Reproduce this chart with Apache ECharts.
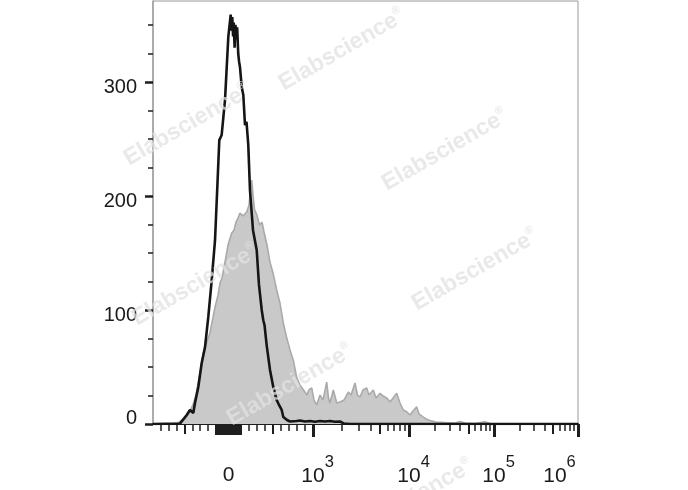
<!DOCTYPE html>
<html><head><meta charset="utf-8">
<script src="https://cdn.jsdelivr.net/npm/echarts@6/dist/echarts.min.js"></script>
<style>html,body{margin:0;padding:0;background:#fff}#c{width:688px;height:490px}</style>
</head><body><div id="c"></div>
<script>
// Histogram bins: display channel (0-1000 across the biexponential axis) and event counts
const grayChannel = [0,40,58.8,68.2,75.3,82.4,87,94,101,110.6,118.4,124.7,134,141,146,153,157.7,162.4,169.4,176.5,185.2,190.6,195.3,200,204.7,211.8,220.5,226,229.4,232.3,235.3,238.8,244.7,250.6,256.5,261.2,268.2,275.3,282.4,291,298.8,306.6,314.1,322.4,330.1,338,346,353.7,362.4,367,373.4,378.8,385.2,393,400,408.7,413,416.5,424.3,432.3,440,449.4,459.6,466,475.3,481.2,487,494,502.8,508.2,518.4,524.8,534.2,541.2,550,557.7,564.8,573.4,581.2,589,597.7,604.7,611.8,620.5,626,636,642.4,651.8,666,687,710.6,722.4,734,757.7,781,793,816.5,1000];
const grayCount = [0,0,0.9,3.5,4.4,8,9.6,16.7,25.4,44.7,62.3,69.3,80,93,102.6,113,123.7,128,142,157,167.5,170,177,180.7,185,182.5,186,192,205,214,201,188,183,174.6,177,168.4,157,142,132.5,117.5,106,88.6,76.3,65,56,41,34,30,25.4,30,31.6,21,16.7,25.4,21,36.8,22.8,18.4,29.8,18.4,19.3,21,28,25.4,36,25.4,23.7,29.8,31.6,25.4,29.8,22.8,27,24.6,22.8,19.3,22.8,27,18.4,12.3,10.5,7.9,11.4,15,8.8,6.1,4.4,3,1.8,1.3,0.9,2.2,0.9,0.4,2,0.4,0,0];
const blackChannel = [0,63.5,67.5,79.3,87,94.8,98.8,106.6,114.6,122.4,130.1,138.1,145.9,151,156,161.6,169.4,177.2,182.8,185,186.5,188.5,190,192,194,196,198,200.5,202.5,204.7,208.7,212.5,216.5,220,224.2,228.2,235.3,244,249.4,255.8,259.5,262.4,267.5,275.3,283,291,296.5,302.8,306.6,315.3,322.4,338,345.9,357.7,369.4,381,393,404.7,416.5,428.2,440,449.4,463.5,1000];
const blackCount = [0,0.3,0.9,7.9,12.3,9.6,18.4,32.5,53.5,67.5,93.9,126,161,205,249,253.5,284,339.5,359,345,357,340,352,330,350,338,348,325,318,313,295.6,288.6,262,265,244.7,205,170,152.6,122,100,91,86.8,69,47.4,32.5,21,16.7,12.3,6.1,3.5,2.2,2.6,3,2.2,2.6,2,2.6,2.2,2.6,2,2.2,0.4,0,0];

// Axis ticks and labels (data units)
const yLabelValues = [0,100,200,300];
const yMinorValues = [25,50,75,125,150,175,225,250,275,325,350];
const xLabelValues = [0,1e3,1e4,1e5,1e6];
const xLabelExp = ['','3','4','5','6'];
const xMinorValues = [-900,-800,-700,-600,-400,-300,-200,200,300,400,600,700,800,900,2000,3000,4000,6000,7000,8000,9000,20000,30000,40000,60000,70000,80000,90000,200000,300000,400000,600000,700000,800000,900000];
const xNearZeroValues = [-100,-90,-80,-70,-60,-50,-40,-30,-20,-10,0,10,20,30,40,50,60,70,80,90,100];
const xMediumValues = [-500,500,5000,50000,500000];
const xMajorValues = [1e3,1e4,1e5,1e6];

// Biexponential display scale (value -> display channel)
const scaleV = [-1000,-100,0,100,1000,1e4,1e5,1e6];
const scaleC = [-18.8,148.2,177.6,207.1,376.5,602.4,802.4,1000];
function biex(v){
  for (let i=0;i<scaleV.length-1;i++){
    const a=scaleV[i], b=scaleV[i+1];
    if (v<=b || i===scaleV.length-2){
      const t = a>=1000 ? (Math.log10(v)-Math.log10(a))/(Math.log10(b)-Math.log10(a)) : (v-a)/(b-a);
      return scaleC[i]+t*(scaleC[i+1]-scaleC[i]);
    }
  }
}
const pairs=(xs,ys)=>xs.map((x,i)=>[x,ys[i]]);
const xLabelPos = xLabelValues.map(biex);

const FONT = 'Liberation Sans, Arial, sans-serif';
const INK = '#1a1a1a';
function tickAxis(vals,len,w){
  return {type:'value',min:0,max:1000,position:'bottom',gridIndex:0,
    axisLine:{show:false},splitLine:{show:false},axisLabel:{show:false},
    axisTick:{show:true,customValues:vals.map(biex),length:len,lineStyle:{color:'#1e1e1e',width:w}}};
}
const chart = echarts.init(document.getElementById('c'));
const wm = [[342,50],[187,125],[445,150],[475,270],[195,285],[290,385],[410,500]];
const wmColor = 'rgba(226,226,226,0.75)';
chart.setOption({
  animation:false,
  grid:{left:153,right:110,top:1,bottom:66,show:true,borderColor:'#9a9a9a',borderWidth:1,backgroundColor:'transparent'},
  xAxis:[
    {type:'value',min:0,max:1000,position:'bottom',
      axisLine:{show:true,lineStyle:{color:'#1e1e1e',width:2}},
      axisTick:{show:false},splitLine:{show:false},
      axisLabel:{show:true,customValues:xLabelPos,margin:30,color:INK,fontFamily:FONT,
        formatter:function(val){
          let k=0,d=1e9; xLabelPos.forEach((p,i)=>{if(Math.abs(p-val)<d){d=Math.abs(p-val);k=i;}});
          if(!xLabelExp[k]) return '{b0|0}';
          if(k===xLabelExp.length-1) return '{b6|10}{s6|'+xLabelExp[k]+'}';
          return '{b|10}{s|'+xLabelExp[k]+'}';
        },
        rich:{
          b0:{fontSize:21,fontFamily:FONT,color:INK,padding:[11,0,11,0]},
          b:{fontSize:21,fontFamily:FONT,color:INK,padding:[0,0,0,9.2]},
          s:{fontSize:16.5,fontFamily:FONT,color:INK,padding:[0,0,27,0]},
          b6:{fontSize:21,fontFamily:FONT,color:INK},
          s6:{fontSize:16.5,fontFamily:FONT,color:INK,padding:[0,37,27,0]}
        }}},
    tickAxis(xMinorValues,7,1.5),
    tickAxis(xNearZeroValues,11,2),
    tickAxis(xMediumValues,10,2),
    tickAxis(xMajorValues,13,3)
  ],
  yAxis:[
    {type:'value',min:0,max:371,position:'left',
      axisLine:{show:true,lineStyle:{color:'#a0a0a0',width:1.5}},
      splitLine:{show:false},
      axisTick:{show:true,customValues:yLabelValues,length:8,lineStyle:{color:'#1e1e1e',width:2.5}},
      axisLabel:{show:true,customValues:yLabelValues,margin:16,color:INK,fontFamily:FONT,
        formatter:v=> v===0 ? '{z|0}' : '{n|'+v+'}',
        rich:{n:{fontSize:20,fontFamily:FONT,color:INK,padding:[12,0,0,0]},
              z:{fontSize:20,fontFamily:FONT,color:INK,padding:[0,0,12,0]}}}},
    {type:'value',min:0,max:371,position:'left',
      axisLine:{show:false},splitLine:{show:false},axisLabel:{show:false},
      axisTick:{show:true,customValues:yMinorValues,length:5,lineStyle:{color:'#1e1e1e',width:1.5}}}
  ],
  series:[
    {type:'line',data:pairs(grayChannel,grayCount),xAxisIndex:0,yAxisIndex:0,symbol:'none',
      lineStyle:{color:'#aaaaaa',width:1.6},areaStyle:{color:'#c9c9c9',opacity:1},z:2},
    {type:'line',data:pairs(blackChannel,blackCount),xAxisIndex:0,yAxisIndex:0,symbol:'none',
      lineStyle:{color:'#151515',width:2.6},z:3}
  ],
  graphic: wm.map(p=>({type:'text',x:p[0],y:p[1],rotation:Math.PI/6,z:100,silent:true,
    style:{text:'{a|Elabscience}{r|®}',align:'center',verticalAlign:'middle',
      rich:{a:{fontSize:23,fontWeight:'bold',fontFamily:FONT,fill:wmColor,color:wmColor},
            r:{fontSize:11,fontWeight:'bold',fontFamily:FONT,fill:wmColor,color:wmColor,padding:[0,0,14,0]}}}}))
});
</script></body></html>
